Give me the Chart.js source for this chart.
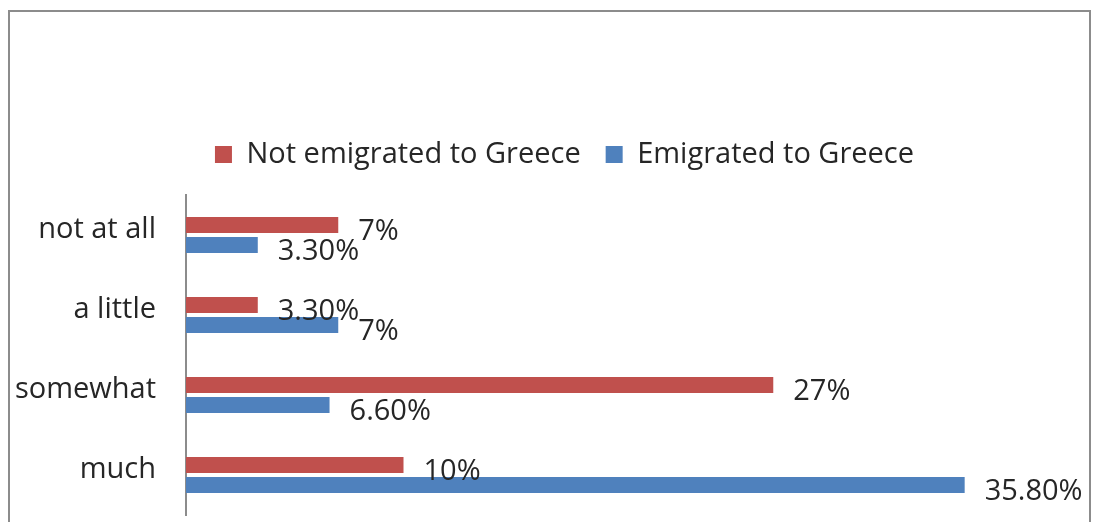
<!DOCTYPE html>
<html>
<head>
<meta charset="utf-8">
<script src="https://cdn.jsdelivr.net/npm/chart.js@4.4.0/dist/chart.umd.min.js"></script>
<style>
  html, body { margin: 0; padding: 0; background: #fff; }
  #wrap { width: 1093px; height: 522px; position: relative; }
</style>
</head>
<body>
<div id="wrap"><canvas id="c"></canvas></div>
<script>
const categories = ['not at all', 'a little', 'somewhat', 'much'];
const notEmigrated = [7, 3.3, 27, 10];
const emigrated = [3.3, 7, 6.6, 35.8];
const seriesNames = ['Not emigrated to Greece', 'Emigrated to Greece'];
const xMax = 41.7;

const FONT = "'Open Sans', 'Liberation Sans', sans-serif";
const TEXT = '#262626';

function pct(v) {
  return Number.isInteger(v) ? v + '%' : v.toFixed(2) + '%';
}

const framePlugin = {
  id: 'frame',
  beforeDraw(chart) {
    const ctx = chart.ctx;
    ctx.save();
    ctx.fillStyle = '#fff';
    ctx.fillRect(0, 0, chart.width, chart.height);
    ctx.strokeStyle = '#8c8c8c';
    ctx.lineWidth = 2;
    ctx.strokeRect(9, 11, 1081, 700);
    ctx.restore();
  }
};

const labelPlugin = {
  id: 'valueLabels',
  afterDatasetsDraw(chart) {
    const ctx = chart.ctx;
    ctx.save();
    ctx.font = "29px " + FONT;
    ctx.fillStyle = TEXT;
    ctx.textAlign = 'left';
    ctx.textBaseline = 'middle';
    chart.data.datasets.forEach((ds, i) => {
      const meta = chart.getDatasetMeta(i);
      meta.data.forEach((bar, j) => {
        ctx.fillText(pct(ds.data[j]), bar.x + 20, bar.y + 7);
      });
    });
    ctx.restore();
  }
};

new Chart(document.getElementById('c'), {
  type: 'bar',
  data: {
    labels: categories,
    datasets: [
      { label: seriesNames[0], data: notEmigrated, backgroundColor: '#C0504D', borderWidth: 0,
        categoryPercentage: 0.5, barPercentage: 0.8 },
      { label: seriesNames[1], data: emigrated, backgroundColor: '#4F81BD', borderWidth: 0,
        categoryPercentage: 0.5, barPercentage: 0.8 }
    ]
  },
  options: {
    indexAxis: 'y',
    responsive: true,
    maintainAspectRatio: false,
    animation: false,
    layout: { padding: { left: 14, right: -22, top: 115, bottom: 7 } },
    plugins: {
      tooltip: { enabled: false },
      legend: {
        position: 'top',
        labels: {
          boxWidth: 17, boxHeight: 17, padding: 25,
          color: TEXT,
          font: { family: FONT, size: 29 }
        }
      }
    },
    scales: {
      x: {
        position: 'top',
        display: true,
        min: 0, max: xMax,
        ticks: { display: false },
        grid: { display: false, drawTicks: false },
        border: { display: false },
        afterFit(scale) { scale.height = 16; scale.paddingLeft = 0; scale.paddingRight = 0; }
      },
      y: {
        grid: { display: false, drawTicks: false },
        border: { display: true, color: '#8c8c8c', width: 2 },
        ticks: {
          color: TEXT,
          font: { family: FONT, size: 29 },
          padding: 30,
          labelOffset: -5
        },
        afterFit(scale) {
          scale.width = 186 - 14;
          scale.paddingTop = 0;
          scale.paddingBottom = 0;
        }
      }
    }
  },
  plugins: [framePlugin, labelPlugin]
});
</script>
</body>
</html>
